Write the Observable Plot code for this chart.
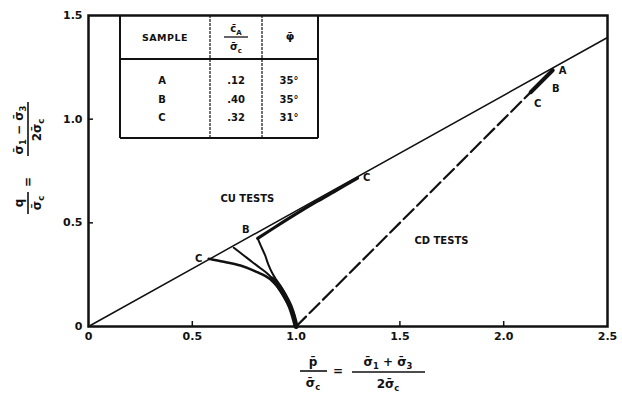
<!DOCTYPE html>
<html><head><meta charset="utf-8">
<script src="https://cdn.jsdelivr.net/npm/d3@7"></script>
<script src="https://cdn.jsdelivr.net/npm/@observablehq/plot@0.6"></script>
<style>body{margin:0;background:#fff} svg{display:block}</style>
</head><body><div id="chart"></div>
<script>
// ---- tick values / labels ----
const xTicks = [0, 0.5, 1.0, 1.5, 2.0, 2.5];
const xTickLabels = ["0", "0.5", "1.0", "1.5", "2.0", "2.5"];
const yTicks = [0, 0.5, 1.0, 1.5];
const yTickLabels = ["0", "0.5", "1.0", "1.5"];

// ---- failure (Kf) line ----
const kfP = [0, 2.5];
const kfQ = [0, 1.394];

// ---- CU tests, effective stress paths ----
const cuTrunkP = [1.0, 0.99, 0.97, 0.945, 0.915, 0.885];
const cuTrunkQ = [0.0, 0.04, 0.10, 0.15, 0.195, 0.228];
const cuCP = [1.0, 0.985, 0.957, 0.925, 0.893, 0.853, 0.813, 0.732, 0.652, 0.579];
const cuCQ = [0.0, 0.06, 0.117, 0.17, 0.214, 0.243, 0.262, 0.294, 0.312, 0.327];
const cuBP = [1.0, 0.985, 0.957, 0.925, 0.895, 0.865, 0.83, 0.79, 0.745, 0.70];
const cuBQ = [0.0, 0.06, 0.117, 0.175, 0.22, 0.252, 0.28, 0.31, 0.345, 0.38];
const cuAP = [1.0, 0.99, 0.965, 0.935, 0.905, 0.885, 0.866, 0.85, 0.832, 0.815];
const cuAQ = [0.0, 0.06, 0.12, 0.18, 0.225, 0.258, 0.30, 0.345, 0.385, 0.425];
const cuTopP = [0.815, 0.9, 1.0, 1.1, 1.2, 1.296];
const cuTopQ = [0.425, 0.48, 0.543, 0.603, 0.66, 0.716];

// ---- CD tests ----
const cdP = [1.0, 2.236];
const cdQ = [0.0, 1.236];
const cdEndP = [2.13, 2.236];
const cdEndQ = [1.13, 1.236];

// ---- point labels ----
const cuLabels = ["C", "B", "C"];
const cdLabels = ["A", "B", "C"];

// ---- table ----
const tableSamples = ["A", "B", "C"];
const tableRatio = [".12", ".40", ".32"];
const tablePhi = ["35°", "35°", "31°"];

const pts = (P, Q) => P.map((p, i) => ({p, q: Q[i]}));

const W = 622, H = 406, ML = 88, MR = 15, MT = 15, MB = 80;
const tick = 5 / ((H - MT - MB) / 1.5);

const last = a => a[a.length - 1];
const cuEnds = [
  {p: last(cuCP), q: last(cuCQ), t: cuLabels[0], dx: -10, dy: 0},
  {p: last(cuBP), q: last(cuBQ), t: cuLabels[1], dx: 12, dy: -18},
  {p: last(cuTopP), q: last(cuTopQ), t: cuLabels[2], dx: 9, dy: 0}
];
const cdEnds = [
  {p: last(cdP), q: last(cdQ), t: cdLabels[0], dx: 10, dy: 1},
  {p: last(cdP), q: last(cdQ), t: cdLabels[1], dx: 3, dy: 19},
  {p: last(cdP), q: last(cdQ), t: cdLabels[2], dx: -15, dy: 34}
];
const labelMarks = [...cuEnds, ...cdEnds].map(d =>
  Plot.text([d], {x: "p", y: "q", text: "t", dx: d.dx, dy: d.dy, fontWeight: "bold", fontSize: 10}));

const plot = Plot.plot({
  width: W, height: H,
  marginLeft: ML, marginRight: MR, marginTop: MT, marginBottom: MB,
  x: {domain: [0, 2.5]},
  y: {domain: [0, 1.5]},
  style: {fontFamily: "DejaVu Sans", fontSize: "11px", color: "#111", background: "#fff"},
  marks: [
    Plot.axisX(xTicks, {tickSize: 0, tickPadding: 6, fontWeight: "bold",
      tickFormat: d => xTickLabels[xTicks.indexOf(d)], label: null}),
    Plot.axisY(yTicks, {tickSize: 0, tickPadding: 6, fontWeight: "bold",
      tickFormat: d => yTickLabels[yTicks.indexOf(d)], label: null}),
    Plot.ruleX(xTicks.slice(1, -1), {x: d => d, y1: 0, y2: tick, stroke: "#111", strokeWidth: 1.5}),
    Plot.ruleY(yTicks.slice(1, -1), {y: d => d, x1: 0, x2: tick, stroke: "#111", strokeWidth: 1.5}),
    Plot.line(pts(kfP, kfQ), {x: "p", y: "q", stroke: "#111", strokeWidth: 1.5}),
    Plot.line(pts(cdP, cdQ), {x: "p", y: "q", stroke: "#111", strokeWidth: 2.2, strokeDasharray: "14,5"}),
    Plot.line(pts(cdEndP, cdEndQ), {x: "p", y: "q", stroke: "#111", strokeWidth: 4}),
    Plot.line(pts(cuCP, cuCQ), {x: "p", y: "q", stroke: "#111", strokeWidth: 2.5, curve: "catmull-rom"}),
    Plot.line(pts(cuBP, cuBQ), {x: "p", y: "q", stroke: "#111", strokeWidth: 2, curve: "catmull-rom"}),
    Plot.line(pts(cuAP, cuAQ), {x: "p", y: "q", stroke: "#111", strokeWidth: 2, curve: "catmull-rom"}),
    Plot.line(pts(cuTrunkP, cuTrunkQ), {x: "p", y: "q", stroke: "#111", strokeWidth: 5, curve: "catmull-rom"}),
    Plot.line(pts(cuTopP, cuTopQ), {x: "p", y: "q", stroke: "#111", strokeWidth: 3.2, curve: "catmull-rom"}),
    ...labelMarks,
    Plot.text(["CU TESTS"], {x: 0.765, y: 0.617, fontWeight: "bold", fontSize: 10}),
    Plot.text(["CD TESTS"], {x: 1.70, y: 0.415, fontWeight: "bold", fontSize: 10}),
    Plot.frame({stroke: "#111", strokeWidth: 2.5})
  ]
});
document.getElementById("chart").appendChild(plot);

const svg = d3.select(plot);
const F = "DejaVu Sans";
const S = "\u03C3\u0304";

function rich(g, x, y, segs, size, anchor = "middle") {
  const t = g.append("text").attr("x", x).attr("y", y)
    .attr("text-anchor", anchor).attr("font-family", F)
    .attr("font-size", size).attr("font-weight", "bold").attr("fill", "#111");
  segs.forEach(([s, kind]) => {
    const ts = t.append("tspan").text(s);
    if (kind === "sub") ts.attr("font-size", size * 0.7).attr("dy", 3);
    if (kind === "back") ts.attr("dy", -3);
  });
  return t;
}
function bar(g, x1, x2, y, w = 1.6) {
  g.append("line").attr("x1", x1).attr("x2", x2).attr("y1", y).attr("y2", y)
    .attr("stroke", "#111").attr("stroke-width", w);
}

// ---- table ----
const tg = svg.append("g");
const tL = 120, tR = 318, tT = 15, tB = 138, tH = 59, c1 = 210, c2 = 262;
[[tL, tT, tL, tB], [tR, tT, tR, tB], [tL, tB, tR, tB]].forEach(([a, b, c, d]) =>
  tg.append("line").attr("x1", a).attr("y1", b).attr("x2", c).attr("y2", d)
    .attr("stroke", "#111").attr("stroke-width", 2));
tg.append("line").attr("x1", tL).attr("x2", tR).attr("y1", tH).attr("y2", tH)
  .attr("stroke", "#111").attr("stroke-width", 2);
[c1, c2].forEach(c => tg.append("line").attr("x1", c).attr("x2", c).attr("y1", tT).attr("y2", tB)
  .attr("stroke", "#111").attr("stroke-width", 1.2).attr("stroke-dasharray", "3,1"));
rich(tg, (tL + c1) / 2, 41, [["SAMPLE"]], 9.5).attr("letter-spacing", "0.5px");
rich(tg, (c1 + c2) / 2, 32, [["c\u0304"], ["A", "sub"]], 10);
bar(tg, 224, 248, 37, 1.3);
rich(tg, (c1 + c2) / 2, 50, [[S], ["c", "sub"]], 10);
rich(tg, (c2 + tR) / 2, 40, [["\u03C6\u0304"]], 11);
const rowY = [84, 103, 121];
tableSamples.forEach((s, i) => {
  rich(tg, 162, rowY[i], [[s]], 10);
  rich(tg, 236, rowY[i], [[tableRatio[i]]], 10);
  rich(tg, 289, rowY[i], [[tablePhi[i]]], 10);
});

// ---- x axis title ----
const xg = svg.append("g");
rich(xg, 313, 366, [["p\u0304"]], 12);
bar(xg, 300, 327, 371);
rich(xg, 313, 387, [[S], ["c", "sub"]], 12);
rich(xg, 338, 375, [["="]], 12);
rich(xg, 388, 366, [[S], ["1", "sub"], [" + ", "back"], [S], ["3", "sub"]], 12);
bar(xg, 352, 425, 372);
rich(xg, 388, 388, [["2" + S], ["c", "sub"]], 12);

// ---- y axis title (rotated) ----
const yg = svg.append("g").attr("transform", "translate(28,158) rotate(-90)");
rich(yg, -45, -5, [["q"]], 12);
bar(yg, -56, -34, 0);
rich(yg, -45, 13, [[S], ["c", "sub"]], 12);
rich(yg, -24, 4, [["="]], 12);
rich(yg, 28, -5, [[S], ["1", "sub"], [" \u2212 ", "back"], [S], ["3", "sub"]], 12);
bar(yg, 2, 56, 0);
rich(yg, 28, 13, [["2" + S], ["c", "sub"]], 12);
</script>
</body></html>
